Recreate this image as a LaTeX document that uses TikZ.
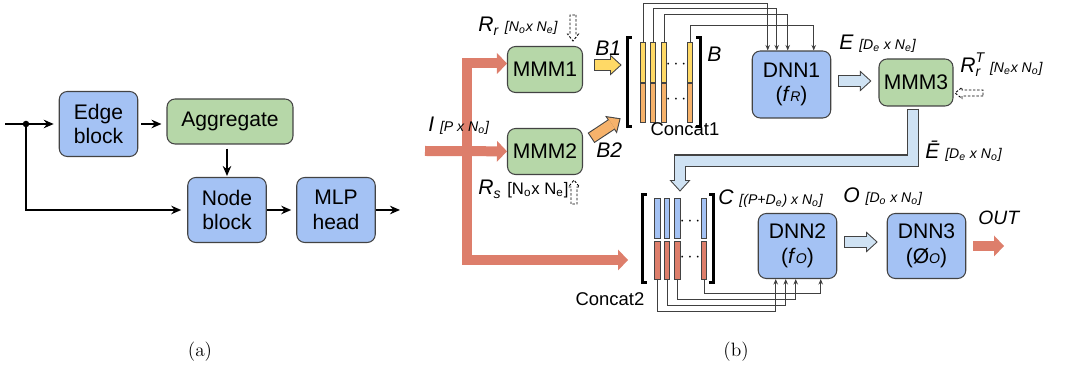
\documentclass[tikz,border=0pt]{standalone}
\usepackage{fontspec}
\setsansfont{Liberation Sans}
\usetikzlibrary{positioning,arrows.meta,calc}

\definecolor{boxblue}{HTML}{A4C2F4}
\definecolor{boxgreen}{HTML}{B6D7A8}
\definecolor{salmon}{HTML}{DD7E6B}
\definecolor{barYellow}{HTML}{FFD966}
\definecolor{barOrange}{HTML}{F6B26B}
\definecolor{paleblue}{HTML}{CFE2F3}
\definecolor{edgegray}{HTML}{434343}

\newcommand{\labfont}{\sffamily\itshape\fontsize{12}{14}\selectfont}
\newcommand{\dimfont}{\sffamily\itshape\fontsize{8}{9}\selectfont}
\newcommand{\hollowarrow}[2]{\draw[hout] #2; \draw[hin=#1] #2;}

\begin{document}
\begin{tikzpicture}[x=0.02cm,y=-0.02cm,
    box/.style={draw=edgegray,line width=0.6pt,rounded corners=0.16cm,align=center,inner sep=0pt,font=\sffamily\fontsize{12}{14}\selectfont},
    bbox/.style={box,fill=boxblue,minimum width=1.57cm,minimum height=1.3cm},
    gbox/.style={box,fill=boxgreen,minimum width=1.5cm,minimum height=0.92cm},
    arr/.style={line width=1.1pt,shorten >=0.1cm,-{Stealth[length=2mm,width=1.7mm]}},
    wire/.style={draw=black!75,line width=0.5pt,-{Stealth[length=1.1mm,width=0.9mm]}},
    fat/.style={draw=salmon,line width=0.2cm,-{Triangle[length=0.2cm,width=0.42cm,line width=0pt]}},
    hout/.style={draw=edgegray,line width=6.9pt,-{Triangle[length=6.6pt,width=12pt,line width=0pt]}},
    hin/.style={draw=#1,line width=5.7pt,shorten >=0.89pt,shorten <=0.6pt,-{Triangle[length=5.1pt,width=9.3pt,line width=0pt]}},
    cell/.style={draw=edgegray,line width=0.5pt,minimum width=0.11cm,inner sep=0pt},
    brk/.style={line width=1.6pt},
    pics/dashmark/.style={code={
      \draw[dashed,dash pattern=on 1.4pt off 1pt,line width=0.5pt,fill=white]
        (-#1,-3) -- (#1-7,-3) -- (#1-7,-5.5) -- (#1,0) -- (#1-7,5.5) -- (#1-7,3) -- (-#1,3) -- cycle;}},
    lab/.style={inner sep=0pt,anchor=base west}
  ]
  \useasboundingbox (0,0) rectangle (1065,367);

  % (a)
  \node[bbox] (edge) at (98.5,124) {Edge\\block};
  \node[gbox,minimum width=2.52cm,minimum height=0.9cm] (agg) at (230,121.5) {Aggregate};
  \node[bbox] (nodeb) at (227,210) {Node\\block};
  \node[bbox] (mlp) at (336,210) {MLP\\head};
  \coordinate (ain) at (5,124);
  \coordinate (adot) at (26,124);
  \coordinate (aout) at (405,210);
  \fill (adot) circle (0.065cm);
  \draw[arr] (ain) -- (edge);
  \draw[arr,shorten <=0.06cm] (edge) -- (agg.west |- edge);
  \draw[arr,shorten <=0.08cm,shorten >=0.02cm] (agg.south -| nodeb) -- (nodeb);
  \draw[arr,shorten >=0.12cm] (adot) |- (nodeb);
  \draw[arr] (nodeb) -- (mlp);
  \draw[arr] (mlp) -- (aout);

  % (b)
  \node[gbox] (mmm1) at (545,69.5) {MMM1};
  \node[gbox] (mmm2) at (545,151.5) {MMM2};
  \node[bbox,minimum height=1.34cm] (dnn1) at (791.5,84.5) {DNN1\\(\textit{f}{\fontsize{8}{8}\selectfont\textit{R}})};
  \node[gbox,minimum width=1.48cm,minimum height=0.94cm] (mmm3) at (916,82.5) {MMM3};
  \node[bbox] (dnn2) at (797.5,246) {DNN2\\(\textit{f}{\fontsize{8}{8}\selectfont\textit{O}})};
  \node[bbox] (dnn3) at (926.5,246) {DNN3\\(Ø{\fontsize{8}{8}\selectfont\textit{O}})};

  % concat blocks
  \node[inner sep=0pt,minimum width=1.44cm,minimum height=1.76cm] (cat1) at (664,82) {};
  \node[inner sep=0pt,minimum width=1.4cm,minimum height=1.74cm] (cat2) at (678,238.5) {};
  \foreach \i/\x in {1/643,2/653,3/664,4/690} {
    \node[cell,fill=barYellow,minimum height=0.8cm] (y\i) at (\x,62) {};
    \node[cell,fill=barOrange,minimum height=0.78cm] (o\i) at (\x,102.5) {};
  }
  \foreach \i/\x in {1/657.5,2/667,3/677.5,4/704} {
    \node[cell,fill=boxblue,minimum height=0.8cm] (b\i) at (\x,218) {};
    \node[cell,fill=salmon,minimum height=0.76cm] (r\i) at (\x,260) {};
  }
  \foreach \p/\y in {d1/65,d2/100} \node[inner sep=0pt] (\p) at (676,\y) {$\cdots$};
  \foreach \p/\y in {d3/222,d4/258} \node[inner sep=0pt] (\p) at (690,\y) {$\cdots$};
  \foreach \c in {cat1,cat2} {
    \draw[brk] ([xshift=0.08cm]\c.north west) -- (\c.north west) -- (\c.south west) -- ([xshift=0.08cm]\c.south west);
    \draw[brk] ([xshift=-0.08cm]\c.north east) -- (\c.north east) -- (\c.south east) -- ([xshift=-0.08cm]\c.south east);
  }

  % thick input arrows
  \coordinate (iin) at (425,151);
  \coordinate (isplit) at (467,151);
  \coordinate (c2in) at (628,260);
  \coordinate (out) at (1004,246);
  \draw[fat] (iin) -- (mmm2);
  \draw[fat] (isplit) |- ([yshift=0.12cm]mmm1.west);
  \draw[fat] (isplit) |- (c2in);
  \draw[fat] ([xshift=0.14cm]dnn3.east) -- (out);

  % block arrows
  \hollowarrow{barYellow}{($(mmm1.east)+(11,-4.5)$) -- ($(cat1.west)+(-6,-17)$)}
  \hollowarrow{barOrange}{($(mmm2.east)+(8,-13.5)$) -- ($(cat1.south west)+(-7,-8)$)}
  \hollowarrow{paleblue}{($(dnn1.east)+(7,-3.5)$) -- ($(mmm3.west)+(-7,-1.5)$)}
  \hollowarrow{paleblue}{($(mmm3.south)+(-3,2)$) -- ++(0,52) -| ($(cat2.north)+(2,-3)$)}
  \hollowarrow{paleblue}{($(dnn2.east)+(7,-4)$) -- ($(dnn3.west)+(-9,-4)$)}

  % wires
  \foreach \i/\lv/\dx in {1/3/16,2/8/25,3/14/36,4/25/62}
    \draw[wire] (y\i.north) -- (y\i.north |- 0,\lv) -| ($(dnn1.north west)+(\dx,0)$);
  \foreach \i/\lv/\dx in {1/311/18,2/305/28,3/299/38,4/293/63}
    \draw[wire] (r\i.south) -- (r\i.south |- 0,\lv) -| ($(dnn2.south west)+(\dx,0)$);

  % dashed markers
  \pic[rotate=-90] (dr1) at (573,28) {dashmark=13};
  \pic[rotate=90] (dr2) at (574,192) {dashmark=12};
  \pic[rotate=180] (dr3) at (969,93) {dashmark=14};

  % labels
  \node[lab] (lrr) at (478,32) {\labfont R\textsubscript{r} \dimfont [N\textsubscript{o}x N\textsubscript{e}]};
  \node[lab] (li) at (428,132) {\labfont I \dimfont [P x N\textsubscript{o}]};
  \node[lab] (lrs) at (478,195) {\labfont R\textsubscript{s} \upshape\fontsize{9.5}{11}\selectfont [N\textsubscript{o}x N\textsubscript{e}]};
  \node[lab] (lb1) at (595,56) {\labfont B1};
  \node[lab] (lb2) at (596,158) {\labfont B2};
  \node[lab] (lb) at (707,62) {\labfont B};
  \node[anchor=base,inner sep=0pt,font=\sffamily\fontsize{10.5}{12}\selectfont] (lc1) at (685,136) {Concat1};
  \node[lab] (le) at (839,50) {\labfont E \dimfont [D\textsubscript{e} x N\textsubscript{e}]};
  \node[lab] (lrt) at (960,73) {\labfont R\rlap{\textsubscript{r}}\raisebox{0.9ex}{\fontsize{8}{8}\selectfont T} \dimfont [N\textsubscript{e}x N\textsubscript{o}]};
  \node[lab] (leb) at (925,159) {\labfont \={E} \dimfont [D\textsubscript{e} x N\textsubscript{o}]};
  \node[lab] (lcc) at (718,205) {\labfont C \dimfont [(P+D\textsubscript{e}) x N\textsubscript{o}]};
  \node[lab] (lo) at (843,203) {\labfont O \dimfont [D\textsubscript{o} x N\textsubscript{o}]};
  \node[lab] (lout) at (978,225) {\sffamily\itshape\fontsize{11}{13}\selectfont OUT};
  \node[anchor=base,inner sep=0pt,font=\sffamily\fontsize{10.5}{12}\selectfont] (lc2) at (610,306) {Concat2};
  \node[font=\fontsize{11}{13}\selectfont] (capa) at (200,352) {(a)};
  \node[font=\fontsize{11}{13}\selectfont] (capb) at (736,352) {(b)};
\end{tikzpicture}
\end{document}
